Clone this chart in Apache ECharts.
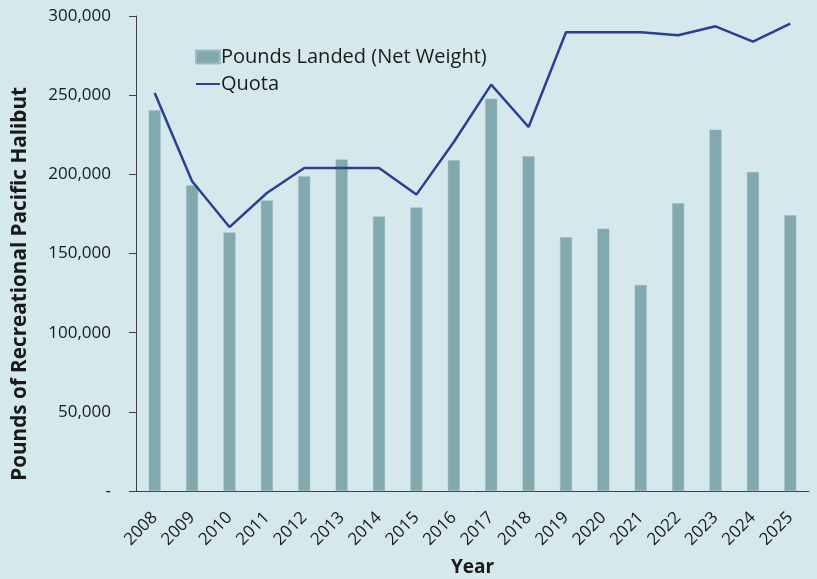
<!DOCTYPE html>
<html>
<head>
<meta charset="utf-8">
<script src="https://cdn.jsdelivr.net/npm/echarts@6/dist/echarts.min.js"></script>
<style>
  html, body { margin: 0; padding: 0; background: #d5e9ec; }
  #chart { width: 817px; height: 579px; }
</style>
</head>
<body>
<div id="chart"></div>
<script>
// years on the x axis
const years = ['2008', '2009', '2010', '2011', '2012', '2013', '2014', '2015', '2016',
  '2017', '2018', '2019', '2020', '2021', '2022', '2023', '2024', '2025'];

// pounds landed (net weight), bars
const landed = [240500, 193100, 163200, 183400, 198800, 209300, 173300, 179000, 208900,
  247800, 211400, 160200, 165700, 130100, 181700, 228200, 201500, 174100];

// quota, line
const quota = [251400, 195600, 166700, 188200, 204000, 204000, 204000, 187200, 220400,
  256700, 229900, 289700, 289700, 289700, 287800, 293500, 283800, 295200];

const font = '"Open Sans", "Noto Sans", sans-serif';
const textColor = '#1a1a1a';

const chart = echarts.init(document.getElementById('chart'));

const option = {
  backgroundColor: '#d5e9ec',
  animation: false,
  textStyle: { fontFamily: font },
  grid: { left: 136, right: 8, top: 16, bottom: 88, outerBoundsMode: 'none' },
  legend: {
    left: 190,
    top: 42,
    orient: 'vertical',
    itemGap: 7,
    itemWidth: 24,
    itemHeight: 13,
    textStyle: { fontFamily: font, fontSize: 20, color: textColor, padding: [0, 0, 0, -4] },
    data: [
      { name: 'Pounds Landed (Net Weight)', icon: 'rect' },
      { name: 'Quota', itemStyle: { opacity: 0 } }
    ]
  },
  xAxis: {
    type: 'category',
    data: years,
    name: 'Year',
    nameLocation: 'middle',
    nameGap: 67,
    nameTextStyle: { fontFamily: font, fontSize: 19, fontWeight: 'bold', color: textColor },
    axisLine: { lineStyle: { color: '#404040', width: 1 } },
    axisTick: { alignWithLabel: true, length: 5, lineStyle: { color: '#404040' } },
    axisLabel: { rotate: 45, fontSize: 17, color: textColor, margin: 24, fontFamily: font }
  },
  yAxis: {
    type: 'value',
    min: 0,
    max: 300000,
    interval: 50000,
    splitLine: { show: false },
    axisLine: { show: true, lineStyle: { color: '#404040', width: 1 } },
    axisTick: { show: true, length: 7, lineStyle: { color: '#404040' } },
    axisLabel: {
      fontSize: 17,
      color: textColor,
      margin: 25,
      fontFamily: font,
      formatter: function (v) {
        return v === 0 ? '-' : v.toLocaleString('en-US');
      }
    }
  },
  graphic: [{
    type: 'text',
    left: 10,
    top: 87,
    rotation: Math.PI / 2,
    style: {
      text: 'Pounds of Recreational Pacific Halibut',
      font: 'bold 20.7px ' + font,
      fill: textColor
    }
  }],
  series: [
    {
      name: 'Pounds Landed (Net Weight)',
      type: 'bar',
      data: landed,
      barWidth: 12,
      itemStyle: { color: '#82a9ad', borderColor: '#9bbcc0', borderWidth: 0.5 }
    },
    {
      name: 'Quota',
      type: 'line',
      data: quota,
      symbol: 'none',
      lineStyle: { color: '#2b3f93', width: 2.5 },
      itemStyle: { color: '#2b3f93' }
    }
  ]
};

chart.setOption(option);
</script>
</body>
</html>
